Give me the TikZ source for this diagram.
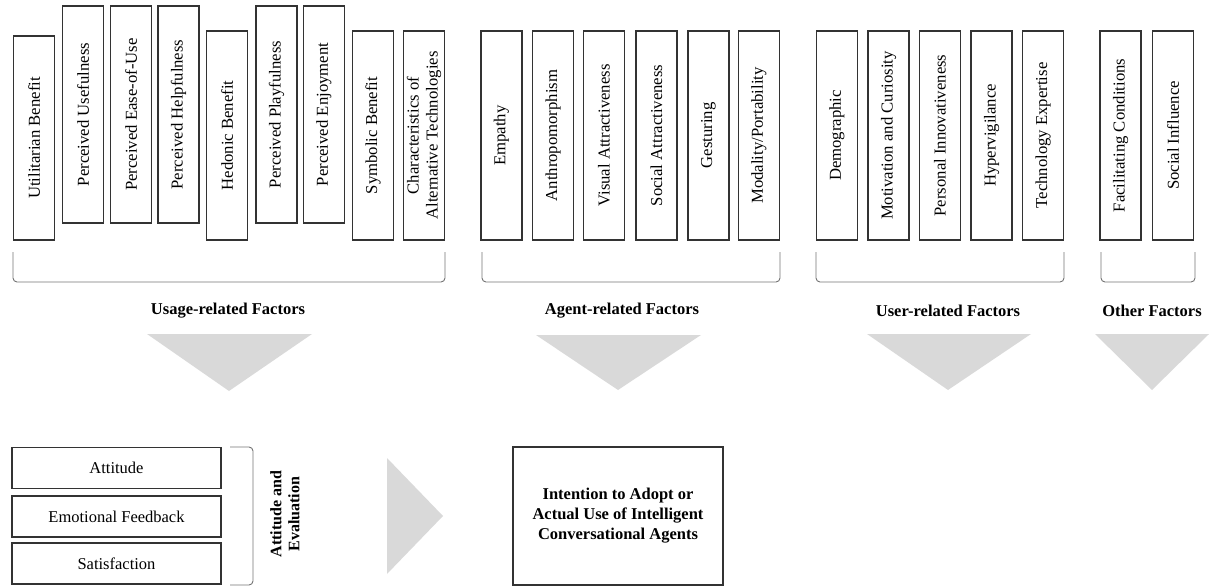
\documentclass[tikz,border=0pt]{standalone}
\usepackage{fontspec}
\setmainfont{Liberation Serif}
\begin{document}
\begin{tikzpicture}[x=1pt,y=-1pt,
  factor/.style={draw=black!80, line width=1.2pt, rotate=90, minimum height=41pt, inner sep=2pt,
    font=\fontsize{16.7}{19}\selectfont, align=center},
  tall/.style={factor, minimum width=217pt},
  short/.style={factor, minimum width=209pt},
  hbox/.style={draw=black!80, line width=1.2pt, minimum width=209pt, minimum height=41pt,
    font=\fontsize{16.5}{19}\selectfont},
  grp/.style={font=\bfseries\fontsize{16.5}{19}\selectfont},
  brk/.style={draw=black!55, line width=0.9pt, rounded corners=4pt},
  tri/.style={fill=black!15, draw=none}
]
\useasboundingbox (0,0) rectangle (1211,586);

% usage-related
\node[factor, minimum width=204pt] (u1) at (34,138) {Utilitarian Benefit};
\node[tall] (u2) at (83,114.5) {Perceived Usefulness};
\node[tall] (u3) at (131,114.5) {Perceived Ease-of-Use};
\node[tall] (u4) at (178.5,114.5) {Perceived Helpfulness};
\node[short] (u5) at (227,135.5) {Hedonic Benefit};
\node[tall] (u6) at (276.5,114.5) {Perceived Playfulness};
\node[tall] (u7) at (324,114.5) {Perceived Enjoyment};
\node[short] (u8) at (373,135.5) {Symbolic Benefit};
\node[short] (u9) at (424,135.5) {Characteristics of\\Alternative Technologies};

% agent-related
\node[short] (a1) at (501.5,135.5) {Empathy};
\node[short] (a2) at (553,135.5) {Anthropomorphism};
\node[short] (a3) at (604,135.5) {Visual Attractiveness};
\node[short] (a4) at (656.5,135.5) {Social Attractiveness};
\node[short] (a5) at (708.5,135.5) {Gesturing};
\node[short] (a6) at (759,135.5) {Modality/Portability};

% user-related
\node[short] (r1) at (837,135.5) {Demographic};
\node[short] (r2) at (888.5,135.5) {Motivation and Curiosity};
\node[short] (r3) at (940,135.5) {Personal Innovativeness};
\node[short] (r4) at (991.5,135.5) {Hypervigilance};
\node[short] (r5) at (1043,135.5) {Technology Expertise};

% other
\node[short] (o1) at (1120.5,135.5) {Facilitating Conditions};
\node[short] (o2) at (1173,135.5) {Social Influence};

% brackets
\draw[brk] (13,252) -- (13,282) -- (445,282) -- (445,252);
\draw[brk] (482,252) -- (482,282) -- (780,282) -- (780,252);
\draw[brk] (816,252) -- (816,282) -- (1064,282) -- (1064,252);
\draw[brk] (1101,252) -- (1101,282) -- (1195,282) -- (1195,252);

% group labels
\node[grp] (lu) at (228,311) {Usage-related Factors};
\node[grp] (la) at (622,311) {Agent-related Factors};
\node[grp] (lr) at (948,311) {User-related Factors};
\node[grp] (lo) at (1152,311) {Other Factors};

% down triangles
\fill[tri] (147,334) -- (312,334) -- (229,391) -- cycle;
\fill[tri] (536,335) -- (701,335) -- (618,390) -- cycle;
\fill[tri] (867,334) -- (1031,334) -- (948,390) -- cycle;
\fill[tri] (1095,334) -- (1209,334) -- (1152,390) -- cycle;

% attitude and evaluation
\node[hbox] (att) at (116.5,468) {Attitude};
\node[hbox] (emo) at (116.5,516.5) {Emotional Feedback};
\node[hbox] (sat) at (116.5,563.5) {Satisfaction};
\draw[brk] (230,447) -- (253,447) -- (253,585) -- (230,585);
\node[grp, rotate=90, align=center, font=\bfseries\fontsize{16}{18}\selectfont] (ae) at (285,514) {Attitude and\\Evaluation};

% right triangle
\fill[tri] (387,458) -- (443,516) -- (387,574) -- cycle;

% outcome
\node[draw=black!80, line width=1.2pt, minimum width=210pt, minimum height=138pt, align=center,
  font=\bfseries\fontsize{16.5}{20}\selectfont] (out) at (618,516)
  {Intention to Adopt or\\Actual Use of Intelligent\\Conversational Agents};
\end{tikzpicture}
\end{document}
